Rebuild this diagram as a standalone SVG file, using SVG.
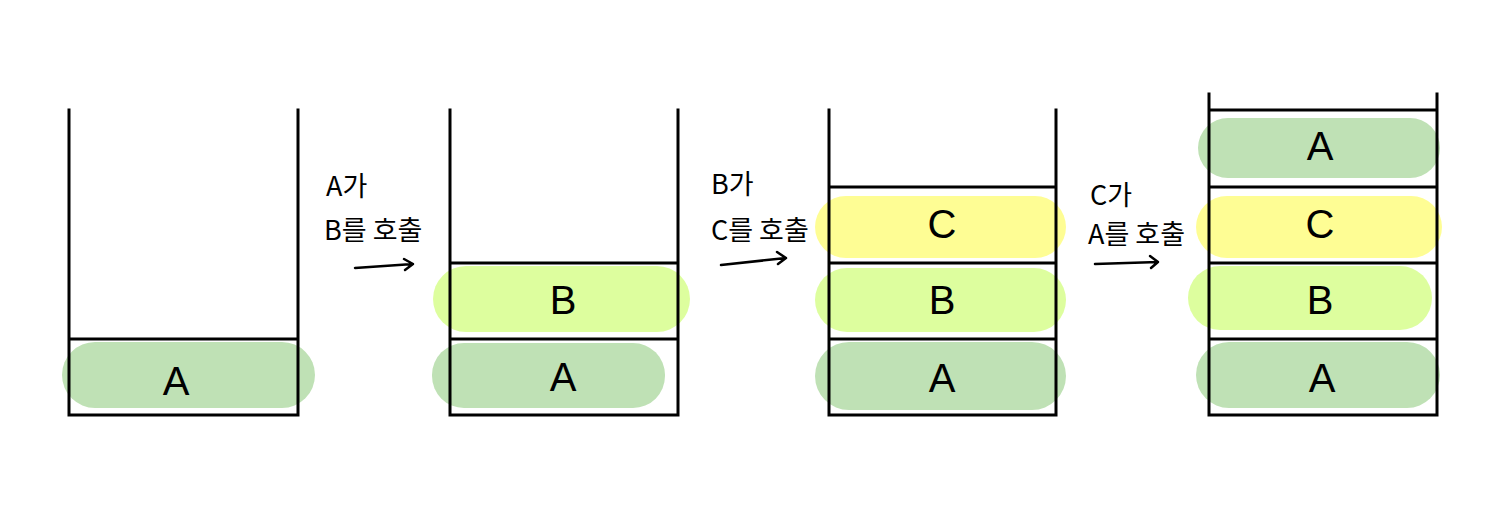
<svg xmlns="http://www.w3.org/2000/svg" width="1502" height="510" viewBox="0 0 1502 510">
<defs>
<style>
.stk{fill:none;stroke:#000;stroke-width:3;stroke-linecap:square}
.ga{fill:#bfe1b5}
.gb{fill:#ddfe9e}
.yc{fill:#fefd94}
.lt{font-family:"Liberation Sans","Noto Sans",sans-serif;font-size:40px;fill:#000;text-anchor:middle}
.kt{font-family:"Noto Sans CJK KR","Noto Sans",sans-serif;font-size:27px;fill:#000}
.arr{fill:none;stroke:#000;stroke-width:2.5;stroke-linecap:round;stroke-linejoin:round}
</style>
</defs>
<rect width="1502" height="510" fill="#fff"/>
<g id="stack1">
<rect class="ga" x="62" y="342" width="253" height="66" rx="33"/>
<text class="lt" x="176" y="395">A</text>
<path class="stk" d="M69 110 V415 H298 V110 M69 339 H298"/>
</g>
<g id="stack2">
<rect class="gb" x="433" y="266" width="257" height="66" rx="33"/>
<rect class="ga" x="432" y="343" width="233" height="65" rx="32"/>
<text class="lt" x="563" y="314">B</text>
<text class="lt" x="563" y="391">A</text>
<path class="stk" d="M450 110 V415 H678 V110 M450 263 H678 M450 339 H678"/>
</g>
<g id="stack3">
<rect class="yc" x="815" y="196" width="251" height="62" rx="31"/>
<rect class="gb" x="815" y="268" width="251" height="64" rx="32"/>
<rect class="ga" x="815" y="342" width="251" height="68" rx="34"/>
<text class="lt" x="942" y="238">C</text>
<text class="lt" x="942" y="314">B</text>
<text class="lt" x="942" y="392">A</text>
<path class="stk" d="M829 110 V415 H1056 V110 M829 187 H1056 M829 263 H1056 M829 339 H1056"/>
</g>
<g id="stack4">
<rect class="ga" x="1198" y="118" width="242" height="60" rx="30"/>
<rect class="yc" x="1196" y="196" width="246" height="62" rx="31"/>
<rect class="gb" x="1188" y="266" width="244" height="64" rx="32"/>
<rect class="ga" x="1196" y="342" width="244" height="66" rx="33"/>
<text class="lt" x="1320" y="160">A</text>
<text class="lt" x="1320" y="238">C</text>
<text class="lt" x="1320" y="314">B</text>
<text class="lt" x="1322" y="392">A</text>
<path class="stk" d="M1209 94 V415 H1437 V94 M1209 110 H1437 M1209 187 H1437 M1209 263 H1437 M1209 339 H1437"/>
</g>
<g id="connectors">
<g id="call1">
<text class="kt" x="326" y="196">A가</text>
<text class="kt" x="324" y="240">B를 호출</text>
<path class="arr" d="M355 268 L413 264 M404 259 L413 264 L405 270"/>
</g>
<g id="call2">
<text class="kt" x="711" y="194">B가</text>
<text class="kt" x="711" y="240">C를 호출</text>
<path class="arr" d="M721 265 L786 258 M777 252 L786 258 L778 264"/>
</g>
<g id="call3">
<text class="kt" x="1090" y="205">C가</text>
<text class="kt" x="1088" y="244">A를 호출</text>
<path class="arr" d="M1095 264 L1158 262 M1150 256 L1158 262 L1151 268"/>
</g>
</g>
</svg>
